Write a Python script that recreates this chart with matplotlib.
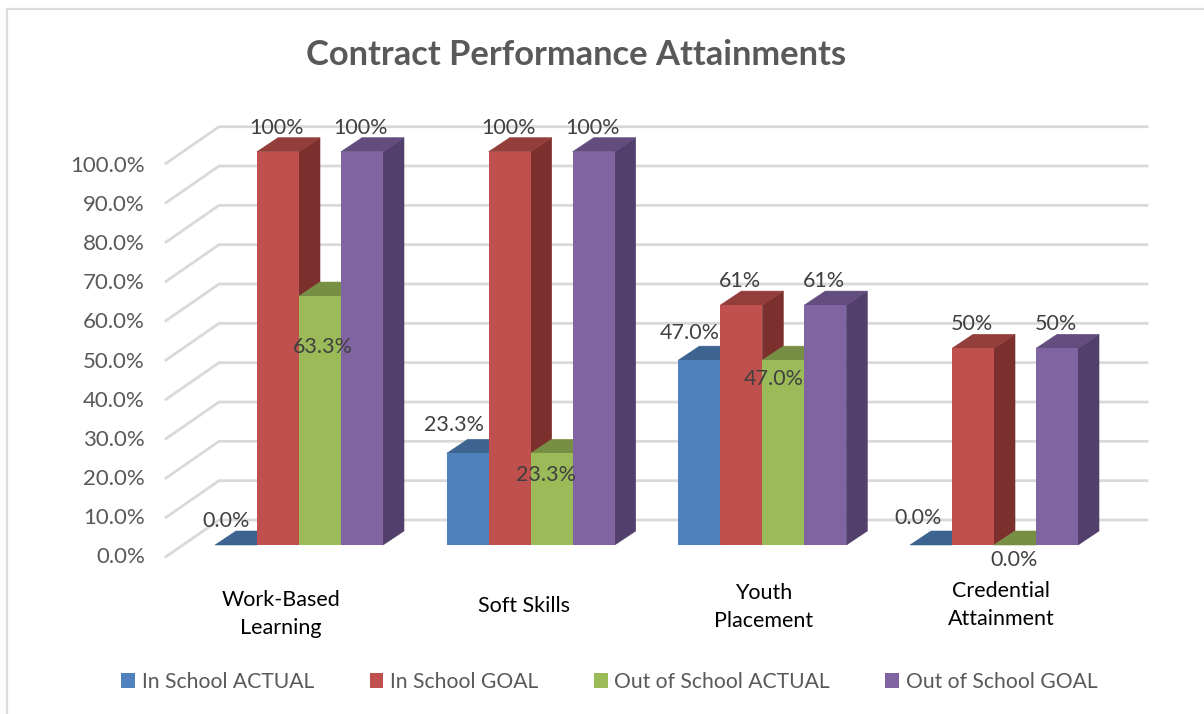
import numpy as np
import matplotlib
matplotlib.use('Agg')
import matplotlib.pyplot as plt
from matplotlib.patches import Patch

plt.rcParams['font.family'] = ['Lato', 'DejaVu Sans']

categories = ['Work-Based\nLearning', 'Soft Skills', 'Youth\nPlacement', 'Credential\nAttainment']
series_names = ['In School ACTUAL', 'In School GOAL', 'Out of School ACTUAL', 'Out of School GOAL']
in_school_actual = [0.0, 23.3, 47.0, 0.0]
in_school_goal = [100, 100, 61, 50]
out_school_actual = [63.3, 23.3, 47.0, 0.0]
out_school_goal = [100, 100, 61, 50]
y_ticks = [0, 10, 20, 30, 40, 50, 60, 70, 80, 90, 100]

series = [in_school_actual, in_school_goal, out_school_actual, out_school_goal]
label_fmt = ['{:.1f}%', '{:.0f}%', '{:.1f}%', '{:.0f}%']

# front, top, side colours
colors = [('#4f81bd', '#3d6491', '#335479'),
          ('#c0504d', '#943e3b', '#7c302e'),
          ('#9bbb59', '#778f45', '#637739'),
          ('#8064a2', '#634d7e', '#533f6b')]

# label offsets from the bar top centre, in pixels
label_nudge = [[(-10, 24), (-14, 28), (-10, 27), (-13, 27)],
               [(-1, 24), (-1, 24), (-1, 24), (-1, 24)],
               [(3, -51), (-6, -22), (-10, -19), (-1, -15)],
               [(-1, 24), (-1, 24), (-1, 24), (-1, 24)]]
cat_nudge = [(-18, -69), (-7, -61), (1, -62), (7, -60)]

W, H = 1204, 714
px_per_cat = 231.67
px_per_pct = 3.933
tick_px_per_pct = 3.91
x0_px, y0_px = 299.0, 545.0


def dx(px):
    return px / px_per_cat


def dy(px):
    return px / px_per_pct


fig = plt.figure(figsize=(W / 100, H / 100), dpi=100)
ax = fig.add_axes([0, 0, 1, 1])
ax.set_xlim(-x0_px / px_per_cat, (W - x0_px) / px_per_cat)
ax.set_ylim(-(H - y0_px) / px_per_pct, y0_px / px_per_pct)
ax.axis('off')

# chart border, only left and top show in the crop
ax.plot([dx(7 - x0_px), dx(7 - x0_px), dx(W + 5 - x0_px)],
        [-100, dy(y0_px - 9), dy(y0_px - 9)], color='#dcdcdc', lw=1.6, zorder=1)

# walls
wall_left = dx(166 - x0_px)
wall_back = dx(219 - x0_px)
wall_right = dx(1147 - x0_px)
front_drop = dy(-11.7)
back_rise = dy(25)
for v in y_ticks:
    ax.plot([wall_left, wall_back, wall_right],
            [v + front_drop, v + back_rise, v + back_rise],
            color='#d9d9d9', lw=2.0, solid_joinstyle='miter', zorder=2)
    ax.text(dx(145 - x0_px), dy(v * tick_px_per_pct - 12), '{:.1f}%'.format(v), ha='right', va='center',
            fontsize=16, color='#595959', zorder=6)

# bars, painted left to right so the nearer faces cover the sides
bar_w = dx(42)
depth_x = dx(21)
depth_y = dy(14)
for c in range(len(categories)):
    for s, values in enumerate(series):
        left = c + (s - 2) * bar_w
        v = values[c]
        front, top, side = colors[s]
        ax.fill([left + bar_w, left + bar_w + depth_x, left + bar_w + depth_x, left + bar_w],
                [0, depth_y, v + depth_y, v], color=side, lw=0.4, zorder=3)
        ax.fill([left, left + bar_w, left + bar_w + depth_x, left + depth_x],
                [v, v, v + depth_y, v + depth_y], color=top, lw=0.4, zorder=3)
        ax.bar(left, v, width=bar_w, align='edge', color=front, lw=0, zorder=3)

# data labels
for s, values in enumerate(series):
    for c, v in enumerate(values):
        center = c + (s - 2) * bar_w + bar_w / 2
        ax.annotate(label_fmt[s].format(v), xy=(center, v), xytext=label_nudge[s][c],
                    textcoords='offset pixels', ha='center', va='center',
                    fontsize=15.5, color='#404040', zorder=7)

# category labels
for c, name in enumerate(categories):
    ax.annotate(name, xy=(c, 0), xytext=cat_nudge[c], textcoords='offset pixels',
                ha='center', va='center', fontsize=15.5, color='black',
                linespacing=1.47, zorder=7)

ax.text(dx(576 - x0_px), dy(y0_px - 55), 'Contract Performance Attainments', ha='center', va='center',
        fontsize=24.8, fontweight='bold', color='#595959', zorder=7)

handles = [Patch(facecolor=colors[i][0], edgecolor='none', label=series_names[i]) for i in range(4)]
ax.legend(handles=handles, ncol=4, loc='center', bbox_to_anchor=(609.5 / W, 1 - 682 / H),
          frameon=False, fontsize=15.2, labelcolor='#595959', handlelength=0.66, handleheight=0.66,
          handletextpad=0.33, columnspacing=2.6, borderpad=0, borderaxespad=0)

plt.savefig('out.png', dpi=100)
